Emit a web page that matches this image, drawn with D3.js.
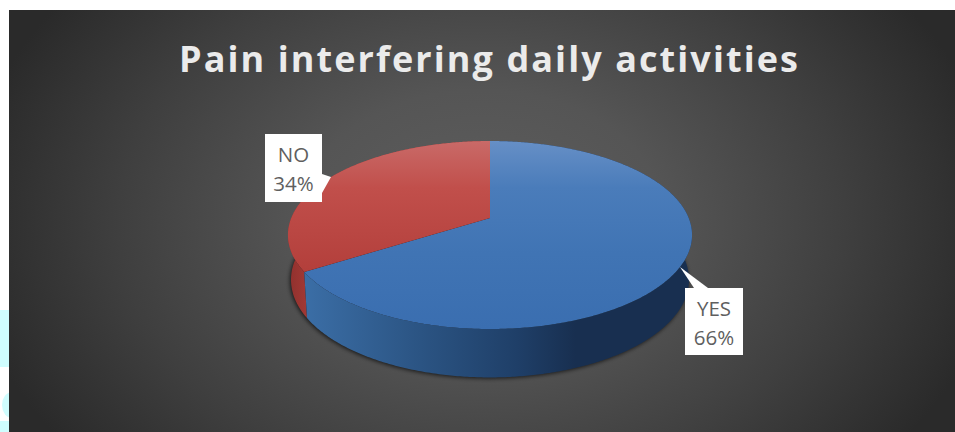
<!DOCTYPE html>
<html>
<head>
<meta charset="utf-8">
<script src="https://cdn.jsdelivr.net/npm/d3@7"></script>
<style>
  html, body { margin: 0; padding: 0; background: #fff; overflow: hidden; }
  svg { display: block; }
</style>
</head>
<body>
<svg id="chart" width="955" height="432"></svg>
<script>
const chartTitle = "Pain interfering daily activities";
const categories = ["YES", "NO"];
const shares = [66, 34];

const svg = d3.select("#chart");
const defs = svg.append("defs");

function addLinear(id, x1, y1, x2, y2, stops) {
  const g = defs.append("linearGradient").attr("id", id)
    .attr("gradientUnits", "userSpaceOnUse")
    .attr("x1", x1).attr("y1", y1).attr("x2", x2).attr("y2", y2);
  stops.forEach(([o, c]) => g.append("stop").attr("offset", o).attr("stop-color", c));
}

// Panel background: a soft grey glow fading to charcoal at the corners
const glow = defs.append("radialGradient").attr("id", "panelGlow")
  .attr("gradientUnits", "userSpaceOnUse")
  .attr("cx", 482).attr("cy", 221).attr("r", 520)
  .attr("gradientTransform", "translate(482 221) scale(1 0.72) translate(-482 -221)");
[[0, "#5e5e5e"], [0.35, "#555555"], [0.7, "#3f3f3f"], [1, "#2a2a2a"]]
  .forEach(([o, c]) => glow.append("stop").attr("offset", o).attr("stop-color", c));

addLinear("topYES", 0, 141, 0, 329, [[0, "#668fc6"], [0.25, "#4a7cba"], [0.6, "#4074b4"], [1, "#3a6eb0"]]);
addLinear("topNO", 0, 141, 0, 329, [[0, "#c96a68"], [0.25, "#c14f4b"], [0.7, "#b33f3b"], [1, "#aa3a36"]]);
addLinear("wallYES", 304, 0, 692, 0, [[0, "#3b6ea6"], [0.3, "#2b5483"], [0.55, "#1f3f68"], [0.7, "#182f50"], [1, "#182f50"]]);
addLinear("wallNO", 288, 0, 310, 0, [[0, "#8f302d"], [1, "#a53a36"]]);

defs.append("filter").attr("id", "dropBlur")
  .attr("x", "-10%").attr("y", "-10%").attr("width", "120%").attr("height", "130%")
  .append("feGaussianBlur").attr("stdDeviation", 2);

// Page decoration peeking out to the left of the panel
const pageMarks = svg.append("g").attr("fill", "#cffdfe");
pageMarks.append("rect").attr("x", 0).attr("y", 310).attr("width", 9).attr("height", 57);
pageMarks.append("ellipse").attr("cx", 12).attr("cy", 405).attr("rx", 10).attr("ry", 13);
pageMarks.append("rect").attr("x", 0).attr("y", 421).attr("width", 9).attr("height", 11);

svg.append("rect").attr("x", 9).attr("y", 10).attr("width", 946).attr("height", 422)
  .attr("fill", "url(#panelGlow)");

svg.append("text").attr("x", 179).attr("y", 72)
  .attr("font-family", "'Open Sans', sans-serif").attr("font-weight", 700)
  .attr("font-size", 36)
  .attr("textLength", 619).attr("lengthAdjust", "spacing")
  .attr("fill", "#ebebeb")
  .text(chartTitle);

// Tilted disc: unit-circle coordinates go through a one-point perspective,
// then the scales place them on the panel.
const tilt = 0.181;
const sx = d3.scaleLinear().domain([-1, 1]).range([291.3, 688.7]);
const sy = d3.scaleLinear().domain([-1, 1]).range([127.1, 308.9]);
const rimDrop = 44, lowerX = 0.985, lowerY = 1.04;

function project(angle, lower) {
  const ux = Math.sin(angle), uy = -Math.cos(angle);
  const w = 1 - tilt * uy;
  const px = ux / w, py = uy / w;
  if (!lower) return [sx(px), sy(py)];
  return [sx(px * lowerX), sy(py * lowerY) + rimDrop];
}
const hub = (lower) => lower ? [sx(0), sy(0) + rimDrop] : [sx(0), sy(0)];

const line = d3.line();
const arcPoints = (a0, a1, lower) => {
  const n = Math.ceil(Math.abs(a1 - a0) / 0.01);
  return d3.range(n + 1).map(i => project(a0 + (a1 - a0) * i / n, lower));
};

const arcs = d3.pie().sort(null).value(d => d)(shares);

// Drop shadow under the lower rim
svg.append("path")
  .attr("d", line(arcPoints(0, 2 * Math.PI, true)) + "Z")
  .attr("transform", "translate(-1,1)")
  .attr("fill", "#000").attr("fill-opacity", 0.7)
  .attr("filter", "url(#dropBlur)");

// Side walls, red first so the blue front wall overlaps it
const walls = svg.append("g");
[1, 0].forEach(i => {
  const a = arcs[i];
  const upper = arcPoints(a.startAngle, a.endAngle, false);
  const lowerRim = arcPoints(a.endAngle, a.startAngle, true);
  walls.append("path")
    .attr("d", line(upper.concat(lowerRim)) + "Z")
    .attr("fill", `url(#wall${categories[i]})`);
});

// Top faces
const faces = svg.append("g");
arcs.forEach((a, i) => {
  const pts = [hub(false)].concat(arcPoints(a.startAngle, a.endAngle, false));
  faces.append("path")
    .attr("d", line(pts) + "Z")
    .attr("fill", `url(#top${categories[i]})`);
});

// Callouts: white label boxes with a pointer towards their slice
const calloutBoxes = [
  { x: 685, y: 288, w: 58, h: 67, pointer: [[694, 288], [680, 267], [708, 288]] },
  { x: 265, y: 134, w: 57, h: 68, pointer: [[322, 174], [331, 177], [322, 193]] }
];
const callouts = svg.append("g");
categories.forEach((c, i) => {
  const b = calloutBoxes[i];
  const g = callouts.append("g");
  g.append("path").attr("d", line(b.pointer) + "Z").attr("fill", "#fff");
  g.append("rect").attr("x", b.x).attr("y", b.y).attr("width", b.w).attr("height", b.h).attr("fill", "#fff");
  [c, shares[i] + "%"].forEach((t, k) => {
    g.append("text")
      .attr("x", b.x + b.w / 2)
      .attr("y", b.y + 28 + k * 29)
      .attr("text-anchor", "middle")
      .attr("font-family", "'Open Sans', sans-serif")
      .attr("font-size", 20.5)
      .attr("fill", "#5f5f5f")
      .text(t);
  });
});
</script>
</body>
</html>
